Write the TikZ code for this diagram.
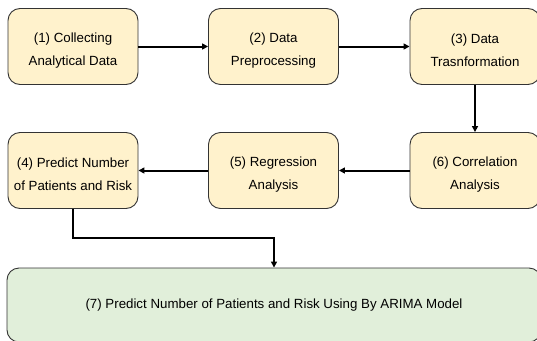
\documentclass[tikz,border=0pt]{standalone}
\usepackage{fontspec}
\setmainfont{Liberation Sans}
\usetikzlibrary{arrows.meta}
\definecolor{boxyellow}{HTML}{FFF2CC}
\definecolor{boxgreen}{HTML}{E1EFDA}
\definecolor{boxline}{HTML}{333333}
\newcommand{\topstrut}{\rule{0pt}{17pt}}
\begin{document}
\begin{tikzpicture}[x=1pt,y=-1pt,
  stepbox/.style={draw=boxline, line width=0.9pt, fill=boxyellow, rounded corners=12pt,
    minimum width=130pt, minimum height=76pt, align=center, inner sep=0pt,
    font=\fontsize{13.3pt}{23pt}\selectfont},
  finalbox/.style={draw=boxline, line width=0.9pt, fill=boxgreen, rounded corners=12pt,
    minimum width=534pt, minimum height=74pt, align=center, inner sep=0pt,
    font=\fontsize{13.3pt}{23pt}\selectfont},
  conn/.style={line width=2pt, draw=black, -{Triangle[length=6pt,width=6pt]}}]
\useasboundingbox (0,0) rectangle (537,340);
\node[stepbox] (b1) at (73,46.5) {\topstrut(1) Collecting\\Analytical Data};
\node[stepbox] (b2) at (273.5,46.5) {\topstrut(2) Data\\Preprocessing};
\node[stepbox] (b3) at (475,46.5) {\topstrut(3) Data\\Trasnformation};
\node[stepbox] (b4) at (73,170.5) {\topstrut(4) Predict Number\\of Patients and Risk};
\node[stepbox] (b5) at (273.5,170.5) {\topstrut(5) Regression\\Analysis};
\node[stepbox] (b6) at (475,170.5) {\topstrut(6) Correlation\\Analysis};
\node[finalbox] (b7) at (274,305) {\raisebox{-4pt}{(7) Predict Number of Patients and Risk Using By ARIMA Model}};
\draw[conn] (b1) -- (b2);
\draw[conn] (b2) -- (b3);
\draw[conn] (b3) -- (b6);
\draw[conn] (b6) -- (b5);
\draw[conn] (b5) -- (b4);
\coordinate (m1) at (73,238);
\coordinate (m2) at (274,238);
\draw[conn] (b4.south) -- (m1) -- (m2) -- (b7.north);
\end{tikzpicture}
\end{document}
